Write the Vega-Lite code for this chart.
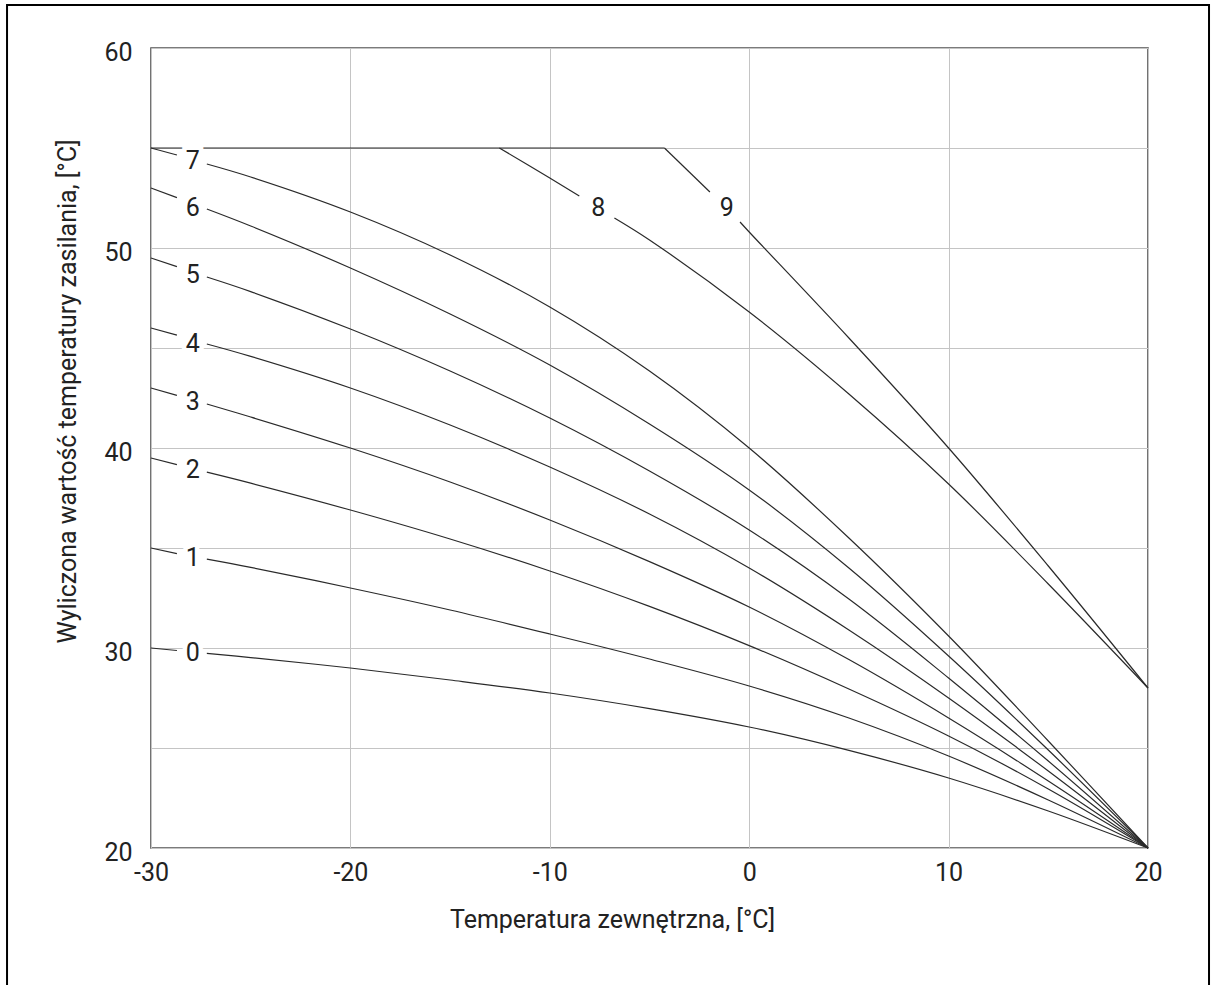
{
  "$schema": "https://vega.github.io/schema/vega-lite/v6.json",
  "width": 997,
  "height": 800,
  "autosize": {"type": "none"},
  "padding": {"left": 151, "top": 48, "right": 65, "bottom": 137},
  "background": "white",
  "config": {
    "view": {"stroke": "#505050", "strokeWidth": 1.6},
    "font": "Roboto, sans-serif"
  },
  "datasets": {
    "curves": [
      {"series": "0a", "x": -30, "y": 30}, {"series": "0a", "x": -28.7, "y": 29.875},
      {"series": "0b", "x": -27.2, "y": 29.73}, {"series": "0b", "x": -25, "y": 29.52}, {"series": "0b", "x": -20, "y": 29.0}, {"series": "0b", "x": -15, "y": 28.4}, {"series": "0b", "x": -10, "y": 27.75}, {"series": "0b", "x": -5, "y": 26.97}, {"series": "0b", "x": 0, "y": 26.05}, {"series": "0b", "x": 5, "y": 24.88}, {"series": "0b", "x": 10, "y": 23.5}, {"series": "0b", "x": 15, "y": 21.85}, {"series": "0b", "x": 20, "y": 20},
      {"series": "1a", "x": -30, "y": 35}, {"series": "1a", "x": -28.7, "y": 34.72},
      {"series": "1b", "x": -27.2, "y": 34.44}, {"series": "1b", "x": -25, "y": 34.03}, {"series": "1b", "x": -20, "y": 33.0}, {"series": "1b", "x": -15, "y": 31.9}, {"series": "1b", "x": -10, "y": 30.7}, {"series": "1b", "x": -5, "y": 29.45}, {"series": "1b", "x": 0, "y": 28.1}, {"series": "1b", "x": 5, "y": 26.5}, {"series": "1b", "x": 10, "y": 24.6}, {"series": "1b", "x": 15, "y": 22.4}, {"series": "1b", "x": 20, "y": 20},
      {"series": "2a", "x": -30, "y": 39.5}, {"series": "2a", "x": -28.7, "y": 39.17},
      {"series": "2b", "x": -27.2, "y": 38.79}, {"series": "2b", "x": -25, "y": 38.24}, {"series": "2b", "x": -20, "y": 36.9}, {"series": "2b", "x": -15, "y": 35.45}, {"series": "2b", "x": -10, "y": 33.85}, {"series": "2b", "x": -5, "y": 32.08}, {"series": "2b", "x": 0, "y": 30.12}, {"series": "2b", "x": 5, "y": 27.95}, {"series": "2b", "x": 10, "y": 25.6}, {"series": "2b", "x": 15, "y": 22.95}, {"series": "2b", "x": 20, "y": 20},
      {"series": "3a", "x": -30, "y": 43}, {"series": "3a", "x": -28.7, "y": 42.63},
      {"series": "3b", "x": -27.2, "y": 42.2}, {"series": "3b", "x": -25, "y": 41.55}, {"series": "3b", "x": -20, "y": 40.0}, {"series": "3b", "x": -15, "y": 38.3}, {"series": "3b", "x": -10, "y": 36.4}, {"series": "3b", "x": -5, "y": 34.32}, {"series": "3b", "x": 0, "y": 32.05}, {"series": "3b", "x": 5, "y": 29.42}, {"series": "3b", "x": 10, "y": 26.5}, {"series": "3b", "x": 15, "y": 23.35}, {"series": "3b", "x": 20, "y": 20},
      {"series": "4a", "x": -30, "y": 46}, {"series": "4a", "x": -28.7, "y": 45.64},
      {"series": "4b", "x": -27.2, "y": 45.2}, {"series": "4b", "x": -25, "y": 44.58}, {"series": "4b", "x": -20, "y": 43.0}, {"series": "4b", "x": -15, "y": 41.15}, {"series": "4b", "x": -10, "y": 39.05}, {"series": "4b", "x": -5, "y": 36.7}, {"series": "4b", "x": 0, "y": 34.0}, {"series": "4b", "x": 5, "y": 30.9}, {"series": "4b", "x": 10, "y": 27.5}, {"series": "4b", "x": 15, "y": 23.85}, {"series": "4b", "x": 20, "y": 20},
      {"series": "5a", "x": -30, "y": 49.5}, {"series": "5a", "x": -28.7, "y": 49.07},
      {"series": "5b", "x": -27.2, "y": 48.55}, {"series": "5b", "x": -25, "y": 47.82}, {"series": "5b", "x": -20, "y": 45.95}, {"series": "5b", "x": -15, "y": 43.85}, {"series": "5b", "x": -10, "y": 41.5}, {"series": "5b", "x": -5, "y": 38.85}, {"series": "5b", "x": 0, "y": 35.9}, {"series": "5b", "x": 5, "y": 32.45}, {"series": "5b", "x": 10, "y": 28.5}, {"series": "5b", "x": 15, "y": 24.35}, {"series": "5b", "x": 20, "y": 20},
      {"series": "6a", "x": -30, "y": 53}, {"series": "6a", "x": -28.7, "y": 52.52},
      {"series": "6b", "x": -27.2, "y": 51.95}, {"series": "6b", "x": -25, "y": 51.1}, {"series": "6b", "x": -20, "y": 49.0}, {"series": "6b", "x": -15, "y": 46.7}, {"series": "6b", "x": -10, "y": 44.15}, {"series": "6b", "x": -5, "y": 41.2}, {"series": "6b", "x": 0, "y": 37.9}, {"series": "6b", "x": 5, "y": 34.0}, {"series": "6b", "x": 10, "y": 29.6}, {"series": "6b", "x": 15, "y": 24.9}, {"series": "6b", "x": 20, "y": 20},
      {"series": "7a", "x": -30, "y": 55}, {"series": "7a", "x": -28.7, "y": 54.65},
      {"series": "7b", "x": -27.2, "y": 54.2}, {"series": "7b", "x": -25, "y": 53.55}, {"series": "7b", "x": -20, "y": 51.8}, {"series": "7b", "x": -15, "y": 49.65}, {"series": "7b", "x": -10, "y": 47.05}, {"series": "7b", "x": -5, "y": 43.85}, {"series": "7b", "x": 0, "y": 40.0}, {"series": "7b", "x": 5, "y": 35.5}, {"series": "7b", "x": 10, "y": 30.6}, {"series": "7b", "x": 15, "y": 25.35}, {"series": "7b", "x": 20, "y": 20},
      {"series": "8a", "x": -12.53, "y": 55}, {"series": "8a", "x": -10, "y": 53.5}, {"series": "8a", "x": -8.52, "y": 52.6},
      {"series": "8b", "x": -6.76, "y": 51.5}, {"series": "8b", "x": -5, "y": 50.4}, {"series": "8b", "x": 0, "y": 46.8}, {"series": "8b", "x": 5, "y": 42.7}, {"series": "8b", "x": 10, "y": 38.2}, {"series": "8b", "x": 15, "y": 33.2}, {"series": "8b", "x": 20, "y": 28},
      {"series": "9a", "x": -4.25, "y": 55}, {"series": "9a", "x": -1.97, "y": 52.8},
      {"series": "9b", "x": -0.46, "y": 51.3}, {"series": "9b", "x": 0, "y": 50.8}, {"series": "9b", "x": 5, "y": 45.5}, {"series": "9b", "x": 10, "y": 40.0}, {"series": "9b", "x": 15, "y": 34.1}, {"series": "9b", "x": 20, "y": 28},
      {"series": "cap", "x": -30, "y": 55}, {"series": "cap", "x": -4.25, "y": 55}
    ],
    "labels": [
      {"label": "0", "x": -27.9, "y": 29.75},
      {"label": "1", "x": -27.9, "y": 34.5},
      {"label": "2", "x": -27.9, "y": 38.9},
      {"label": "3", "x": -27.9, "y": 42.3},
      {"label": "4", "x": -27.9, "y": 45.2},
      {"label": "5", "x": -27.9, "y": 48.65},
      {"label": "6", "x": -27.9, "y": 52.0},
      {"label": "7", "x": -27.9, "y": 54.35},
      {"label": "8", "x": -7.57, "y": 52.0},
      {"label": "9", "x": -1.13, "y": 52.0}
    ]
  },
  "layer": [
    {
      "data": {"name": "curves"},
      "mark": {"type": "line", "interpolate": "catmull-rom", "color": "#2a2a2a", "strokeWidth": 1.2},
      "encoding": {
        "x": {
          "field": "x", "type": "quantitative",
          "scale": {"domain": [-30, 20], "nice": false, "zero": false},
          "axis": {
            "values": [-30, -20, -10, 0, 10, 20],
            "grid": true, "gridColor": "#c4c4c4", "gridWidth": 1,
            "ticks": false, "domain": false,
            "labelExpr": "'' + datum.value",
            "labelFontSize": 25, "labelColor": "#222222", "labelPadding": 12, "labelFlush": false,
            "title": "Temperatura zewnętrzna, [°C]",
            "titleFontSize": 25, "titleFontWeight": "normal", "titleColor": "#222222",
            "titleX": 461, "titleY": 79, "titleAlign": "center", "titleBaseline": "alphabetic"
          }
        },
        "y": {
          "field": "y", "type": "quantitative",
          "scale": {"domain": [20, 60], "nice": false, "zero": false},
          "axis": {
            "values": [20, 25, 30, 35, 40, 45, 50, 55, 60],
            "grid": true, "gridColor": "#c4c4c4", "gridWidth": 1,
            "ticks": false, "domain": false,
            "labelExpr": "datum.value % 10 == 0 ? '' + datum.value : ''",
            "labelFontSize": 25, "labelColor": "#222222", "labelPadding": 19, "labelOffset": 4, "labelFlush": false,
            "title": "Wyliczona wartość temperatury zasilania, [°C]",
            "titleFontSize": 25, "titleFontWeight": "normal", "titleColor": "#222222",
            "titleX": -84, "titleY": 343, "titleAlign": "center", "titleBaseline": "middle", "titleAngle": 270
          }
        },
        "detail": {"field": "series", "type": "nominal"}
      }
    },
    {
      "data": {"name": "labels"},
      "mark": {"type": "text", "fontSize": 25, "align": "center", "baseline": "middle", "fill": "white", "stroke": "white", "strokeWidth": 9},
      "encoding": {
        "x": {"field": "x", "type": "quantitative"},
        "y": {"field": "y", "type": "quantitative"},
        "text": {"field": "label", "type": "nominal"}
      }
    },
    {
      "data": {"name": "labels"},
      "mark": {"type": "text", "fontSize": 25, "align": "center", "baseline": "middle", "fill": "#222222"},
      "encoding": {
        "x": {"field": "x", "type": "quantitative"},
        "y": {"field": "y", "type": "quantitative"},
        "text": {"field": "label", "type": "nominal"}
      }
    },
    {
      "data": {"values": [{}]},
      "mark": {"type": "rect", "filled": false, "stroke": "black", "strokeWidth": 2, "clip": false},
      "encoding": {
        "x": {"datum": -37.22, "type": "quantitative"},
        "x2": {"datum": 23.06},
        "y": {"datum": 62.15, "type": "quantitative"},
        "y2": {"datum": 12.8}
      }
    }
  ]
}
